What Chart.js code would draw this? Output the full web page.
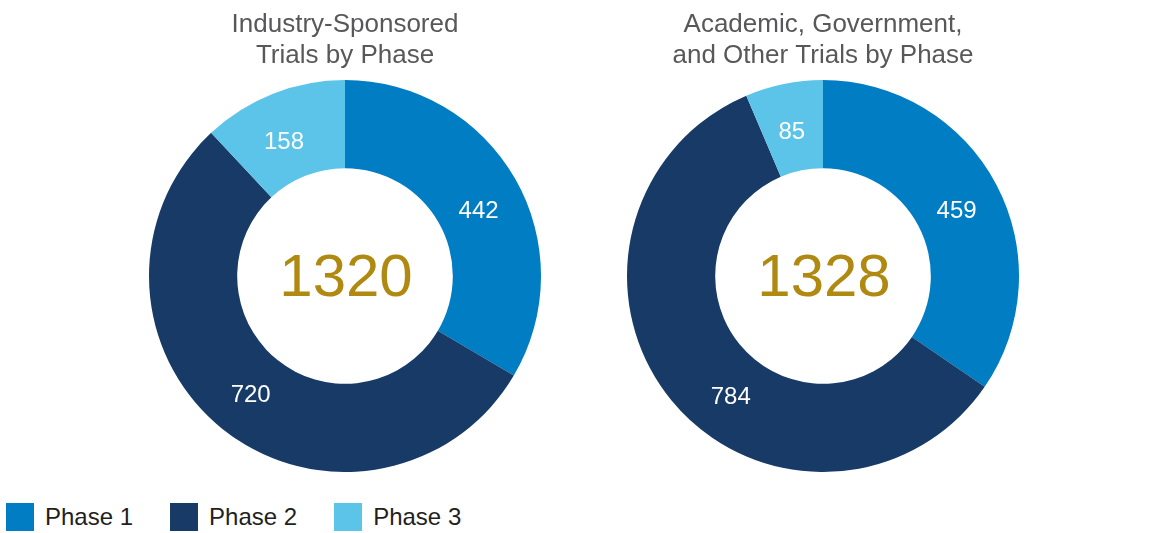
<!DOCTYPE html>
<html>
<head>
<meta charset="utf-8">
<script src="https://cdn.jsdelivr.net/npm/chart.js@4"></script>
<style>
  body { margin: 0; background: #fff; width: 1149px; height: 533px; position: relative; overflow: hidden; font-family: "Liberation Sans", Arial, sans-serif; }
  .box { position: absolute; top: 0; width: 430px; height: 472px; }
  #legend { position: absolute; left: 6px; top: 503px; display: flex; align-items: center; }
  .item { display: flex; align-items: center; margin-right: 37px; font-size: 24px; color: #231f20; }
  .sw { width: 28px; height: 28px; margin-right: 11px; }
</style>
</head>
<body>
<div class="box" style="left:130px"><canvas id="industryChart"></canvas></div>
<div class="box" style="left:608px"><canvas id="academicChart"></canvas></div>
<div id="legend"></div>
<script>
const phases = ["Phase 1", "Phase 2", "Phase 3"];
const phaseColors = ["#017dc4", "#183a66", "#5bc4e8"];
const industryTrials = [442, 720, 158];
const academicTrials = [459, 784, 85];
const industryTitle = ["Industry-Sponsored", "Trials by Phase"];
const academicTitle = ["Academic, Government,", "and Other Trials by Phase"];

const FONT = '"Liberation Sans", Arial, sans-serif';

// white numbers on the ring; angle (deg clockwise from top) can be set by hand
const sliceLabels = {
  id: "sliceLabels",
  afterDatasetsDraw(chart, args, opts) {
    const ctx = chart.ctx;
    const meta = chart.getDatasetMeta(0);
    ctx.save();
    ctx.fillStyle = "#fff";
    ctx.font = "24px " + FONT;
    ctx.textAlign = "center";
    ctx.textBaseline = "middle";
    meta.data.forEach((arc, i) => {
      const r = (arc.innerRadius + arc.outerRadius) / 2 - 2;
      let ang = (arc.startAngle + arc.endAngle) / 2;
      if (opts.angles && opts.angles[i] != null) ang = opts.angles[i] * Math.PI / 180 - Math.PI / 2;
      const x = arc.x + Math.cos(ang) * r;
      const y = arc.y + Math.sin(ang) * r;
      ctx.fillText(chart.data.datasets[0].data[i], x, y + 3);
    });
    ctx.restore();
  }
};

// gold total in the hole
const centerTotal = {
  id: "centerTotal",
  afterDraw(chart) {
    const ctx = chart.ctx;
    const a = chart.chartArea;
    const total = chart.data.datasets[0].data.reduce((s, v) => s + v, 0);
    ctx.save();
    ctx.fillStyle = "#b08a10";
    ctx.font = "60px " + FONT;
    ctx.textAlign = "center";
    ctx.textBaseline = "middle";
    ctx.fillText(total, (a.left + a.right) / 2 + 1, (a.top + a.bottom) / 2 + 3);
    ctx.restore();
  }
};

function makeDonut(id, values, title, labelAngles) {
  new Chart(document.getElementById(id), {
    type: "doughnut",
    data: {
      labels: phases,
      datasets: [{
        data: values,
        backgroundColor: phaseColors,
        borderWidth: 0
      }]
    },
    options: {
      responsive: true,
      maintainAspectRatio: false,
      animation: false,
      cutout: "55%",
      plugins: {
        legend: { display: false },
        tooltip: { enabled: false },
        sliceLabels: { angles: labelAngles },
        title: {
          display: true,
          text: title,
          color: "#58585a",
          font: { family: FONT, size: 26, weight: "normal", lineHeight: 1.2 },
          padding: { top: 9, bottom: 8.6 }
        }
      }
    },
    plugins: [sliceLabels, centerTotal]
  });
}

makeDonut("industryChart", industryTrials, industryTitle, [63, 219, 336]);
makeDonut("academicChart", academicTrials, academicTitle, [63, 218, 348]);

const legend = document.getElementById("legend");
phases.forEach((p, i) => {
  const item = document.createElement("div");
  item.className = "item";
  item.innerHTML = '<span class="sw" style="background:' + phaseColors[i] + '"></span>' + p;
  legend.appendChild(item);
});
</script>
</body>
</html>
